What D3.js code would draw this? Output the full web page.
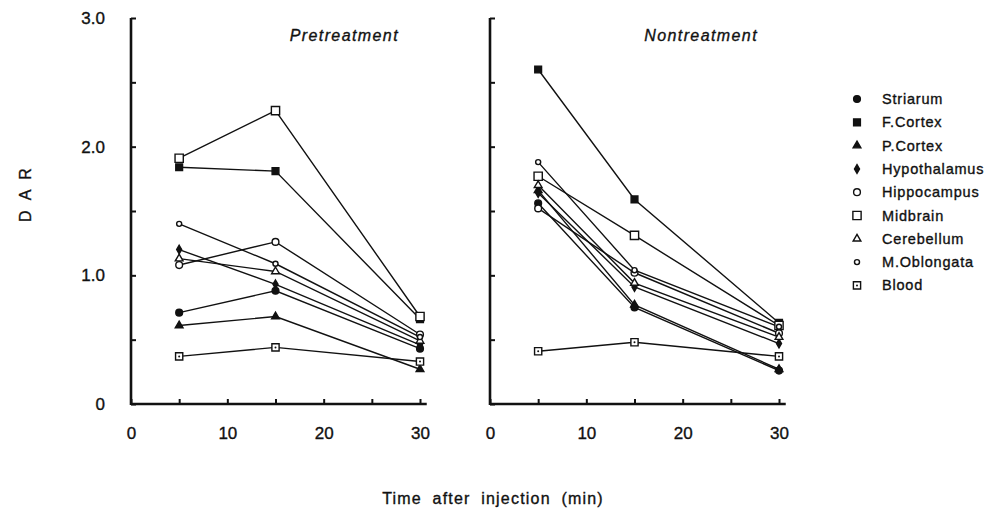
<!DOCTYPE html>
<html>
<head>
<meta charset="utf-8">
<script src="https://cdn.jsdelivr.net/npm/d3@7"></script>
<style>
  body { margin: 0; background: #fff; }
  svg { display: block; font-family: "Liberation Sans", Arial, sans-serif; }
  svg text { stroke: #111; stroke-width: 0.35; }
  .axis text { font-size: 17px; fill: #111; }
  .axis line { stroke: #111; stroke-width: 2; }
  .axis path { display: none; }
</style>
</head>
<body>
<svg id="chart" width="991" height="514"></svg>
<script>
// time points (min)
var times = [5, 15, 30];
var regions = ["Striarum", "F.Cortex", "P.Cortex", "Hypothalamus", "Hippocampus",
               "Midbrain", "Cerebellum", "M.Oblongata", "Blood"];

// DAR values, one row per region, in the order of `regions`
var pretreatment = [
    [0.71, 0.88, 0.43],
    [1.84, 1.81, 0.66],
    [0.61, 0.68, 0.27],
    [1.20, 0.93, 0.46],
    [1.08, 1.26, 0.54],
    [1.91, 2.28, 0.68],
    [1.13, 1.03, 0.49],
    [1.40, 1.09, 0.52],
    [0.37, 0.44, 0.33]
];
var nontreatment = [
    [1.56, 0.75, 0.26],
    [2.60, 1.59, 0.63],
    [1.66, 0.77, 0.27],
    [1.64, 0.91, 0.47],
    [1.52, 1.02, 0.55],
    [1.77, 1.31, 0.61],
    [1.70, 0.94, 0.52],
    [1.88, 1.04, 0.60],
    [0.41, 0.48, 0.37]
];

var yTicks = [0, 0.5, 1, 1.5, 2, 2.5, 3];
var xTicks = [0, 5, 10, 15, 20, 25, 30];

// marker look for each region
var markers = {
    "Striarum":     { type: d3.symbolCircle,   size: 36, fill: "#111" },
    "F.Cortex":     { type: d3.symbolSquare,   size: 46, fill: "#111" },
    "P.Cortex":     { type: d3.symbolTriangle, size: 26, fill: "#111" },
    "Hypothalamus": { type: d3.symbolDiamond,  size: 22, fill: "#111" },
    "Hippocampus":  { type: d3.symbolCircle,   size: 36, fill: "#fff" },
    "Midbrain":     { type: d3.symbolSquare,   size: 68, fill: "#fff" },
    "Cerebellum":   { type: d3.symbolTriangle, size: 26, fill: "#fff" },
    "M.Oblongata":  { type: d3.symbolCircle,   size: 20, fill: "#fff" },
    "Blood":        { type: d3.symbolSquare,   size: 52, fill: "#fff", dot: true }
};

var svg = d3.select("#chart");
var y = d3.scaleLinear().domain([0, 3]).range([404, 18]);

var drawMarker = function (g, name, cx, cy) {
    var m = markers[name];
    g.append("path")
        .attr("d", d3.symbol().type(m.type).size(m.size)())
        .attr("transform", "translate(" + cx + "," + cy + ")")
        .attr("fill", m.fill)
        .attr("stroke", "#111")
        .attr("stroke-width", 1.4);
    if (m.dot) {
        g.append("circle").attr("cx", cx).attr("cy", cy).attr("r", 1).attr("fill", "#111");
    }
};

var drawPanel = function (x0, title, values, showYLabels) {
    var x = d3.scaleLinear().domain([0, 30]).range([x0, x0 + 289]);
    var g = svg.append("g");

    var xAxis = d3.axisBottom(x)
        .tickValues(xTicks)
        .tickSizeInner(-5).tickSizeOuter(0)
        .tickPadding(23)
        .tickFormat(function (d) { return d % 10 === 0 ? d : ""; });
    g.append("g").attr("class", "axis")
        .attr("transform", "translate(0," + y(0) + ")")
        .call(xAxis);

    var yAxis = d3.axisLeft(y)
        .tickValues(yTicks)
        .tickSizeInner(-5).tickSizeOuter(0)
        .tickPadding(26)
        .tickFormat(function (d) {
            if (!showYLabels || d % 1 !== 0) return "";
            return d === 0 ? "0" : d3.format(".1f")(d);
        });
    g.append("g").attr("class", "axis")
        .attr("transform", "translate(" + x0 + ",0)")
        .call(yAxis);

    // axis lines
    g.append("line")
        .attr("x1", x(0)).attr("x2", x(30.7))
        .attr("y1", y(0)).attr("y2", y(0))
        .attr("stroke", "#111").attr("stroke-width", 2.6);
    g.append("line")
        .attr("x1", x(0)).attr("x2", x(0))
        .attr("y1", y(0) + 1).attr("y2", y(3))
        .attr("stroke", "#111").attr("stroke-width", 2.6);

    g.append("text")
        .attr("x", x(30) - 21).attr("y", 41)
        .attr("text-anchor", "end")
        .attr("font-size", 16).attr("font-style", "italic")
        .attr("letter-spacing", 1.4)
        .attr("fill", "#111")
        .text(title);

    var line = d3.line()
        .x(function (d, i) { return x(times[i]); })
        .y(function (d) { return y(d); });

    regions.forEach(function (name, k) {
        g.append("path")
            .datum(values[k])
            .attr("d", line)
            .attr("fill", "none")
            .attr("stroke", "#111")
            .attr("stroke-width", 1.4);
    });
    regions.forEach(function (name, k) {
        values[k].forEach(function (v, i) {
            drawMarker(g, name, x(times[i]), y(v));
        });
    });
};

drawPanel(131, "Pretreatment", pretreatment, true);
drawPanel(490, "Nontreatment", nontreatment, false);

// y axis title
svg.append("text")
    .attr("transform", "translate(31,190) rotate(-90)")
    .attr("text-anchor", "middle")
    .attr("font-size", 16)
    .attr("letter-spacing", 10)
    .attr("fill", "#111")
    .text("DAR");

// x axis title
svg.append("text")
    .attr("x", 493).attr("y", 504)
    .attr("text-anchor", "middle")
    .attr("font-size", 16)
    .attr("letter-spacing", 1.2)
    .attr("word-spacing", 5)
    .attr("fill", "#111")
    .text("Time after injection (min)");

// legend
var legend = svg.append("g");
regions.forEach(function (name, k) {
    var ly = 99 + k * 23.3;
    drawMarker(legend, name, 857, ly);
    legend.append("text")
        .attr("x", 882).attr("y", ly)
        .attr("dy", "0.35em")
        .attr("font-size", 14.5)
        .attr("letter-spacing", 0.8)
        .attr("fill", "#111")
        .text(name);
});
</script>
</body>
</html>
